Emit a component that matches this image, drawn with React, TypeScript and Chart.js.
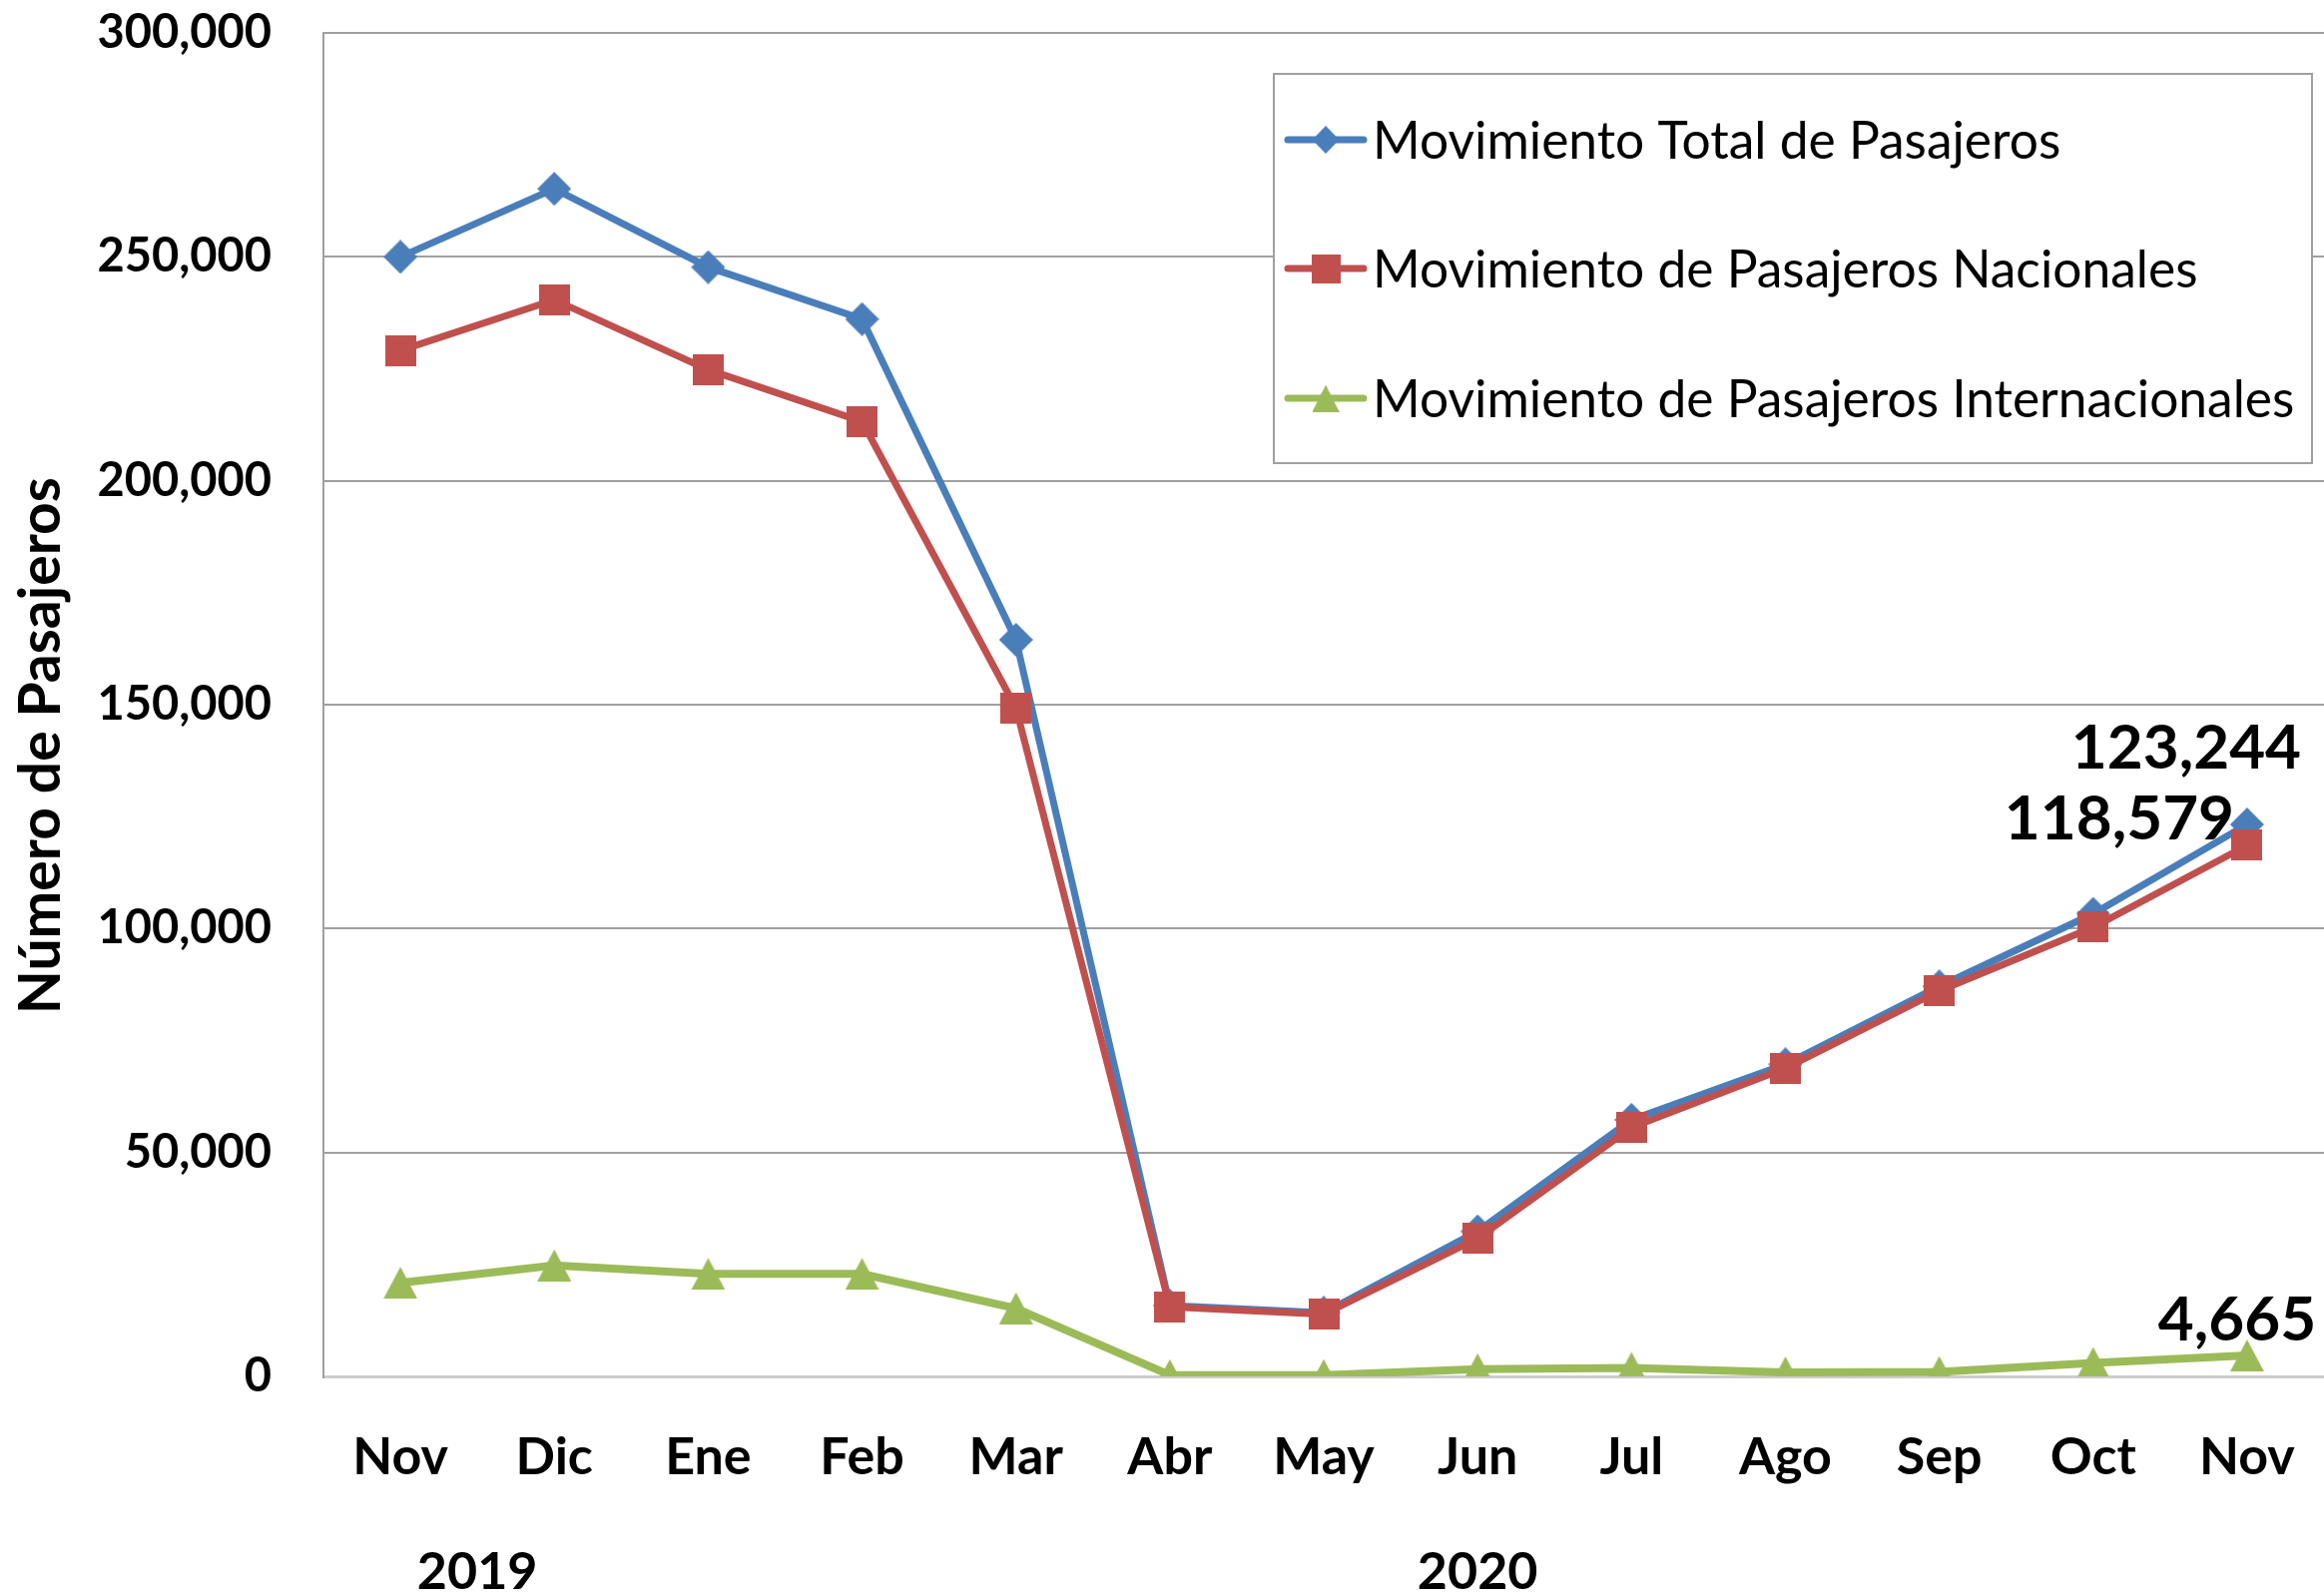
import React, { useEffect, useRef } from 'react';
import { Chart, registerables } from 'chart.js';

Chart.register(...registerables);

// ---------- data ----------
const months = ['Nov', 'Dic', 'Ene', 'Feb', 'Mar', 'Abr', 'May', 'Jun', 'Jul', 'Ago', 'Sep', 'Oct', 'Nov'];
const yearLabels = ['2019', '2020'];
const yearFirstIndex = [0, 2];
const yearLastIndex = [1, 12];

const seriesNames = [
  'Movimiento Total de Pasajeros',
  'Movimiento de Pasajeros Nacionales',
  'Movimiento de Pasajeros Internacionales',
];
const totalPax = [250000, 265200, 247700, 236100, 164500, 15800, 14200, 32400, 57300, 69700, 87100, 103300, 123244];
const nationalPax = [229100, 240400, 224800, 213200, 149300, 15500, 13900, 30800, 55600, 68800, 86100, 100300, 118579];
const internationalPax = [20900, 24800, 22900, 22900, 15200, 300, 300, 1600, 1900, 900, 1000, 3000, 4665];

const yMin = 0;
const yMax = 300000;
const yStep = 50000;
const yTitle = 'Número de Pasajeros';
const annotatedIndex = 12;

// ---------- styles ----------
const BLUE = '#4a7ebb';
const RED = '#c0504d';
const GREEN = '#9bbb59';
const FONT = 'Lato';

function makeMarker(kind: string, w: number, h: number, color: string) {
  const c = document.createElement('canvas');
  c.width = w;
  c.height = h;
  const g = c.getContext('2d')!;
  g.fillStyle = color;
  g.beginPath();
  if (kind === 'diamond') {
    g.moveTo(w / 2, 0);
    g.lineTo(w, h / 2);
    g.lineTo(w / 2, h);
    g.lineTo(0, h / 2);
  } else if (kind === 'square') {
    g.rect(0, 0, w, h);
  } else {
    g.moveTo(w / 2, 0);
    g.lineTo(w, h);
    g.lineTo(0, h);
  }
  g.closePath();
  g.fill();
  return c;
}

const fmt = (v: number) => v.toLocaleString('en-US');

export default function App() {
  const ref = useRef<HTMLCanvasElement | null>(null);

  useEffect(() => {
    let chart: Chart | null = null;
    let cancelled = false;

    const build = () => {
      if (cancelled || !ref.current) return;
      const diamond = makeMarker('diamond', 34, 34, BLUE);
      const square = makeMarker('square', 31, 31, RED);
      const triangle = makeMarker('triangle', 34, 32, GREEN);
      const markers = [diamond, square, triangle];
      const colors = [BLUE, RED, GREEN];
      const legendMarkerSize = [
        [27, 28],
        [29, 29],
        [27, 27],
      ];
      const annotationOffsets = [
        [-61, -76],
        [-128, -26],
        [-10, -35],
      ];

      const overlay = {
        id: 'overlay',
        afterDatasetsDraw(c: any) {
          const ctx = c.ctx as CanvasRenderingContext2D;
          const x = c.scales.x;
          const y = c.scales.y;

          // annotations on last point
          ctx.save();
          ctx.fillStyle = '#000';
          ctx.font = `bold 62px ${FONT}`;
          ctx.textAlign = 'center';
          ctx.textBaseline = 'middle';
          c.data.datasets.forEach((ds: any, i: number) => {
            const v = ds.data[annotatedIndex];
            const px = x.getPixelForValue(annotatedIndex);
            const py = y.getPixelForValue(v);
            ctx.fillText(fmt(v), px + annotationOffsets[i][0], py + annotationOffsets[i][1]);
          });
          ctx.restore();

          // legend box
          ctx.save();
          const bx = 1276, by = 74, bw = 1040, bh = 390;
          ctx.fillStyle = '#fff';
          ctx.fillRect(bx, by, bw, bh);
          ctx.strokeStyle = '#a0a0a0';
          ctx.lineWidth = 2;
          ctx.strokeRect(bx, by, bw, bh);
          const rows = [140, 269, 399];
          ctx.font = `51.5px ${FONT}`;
          ctx.textAlign = 'left';
          ctx.textBaseline = 'middle';
          c.data.datasets.forEach((ds: any, i: number) => {
            const ry = rows[i];
            ctx.strokeStyle = colors[i];
            ctx.lineWidth = 7;
            ctx.lineCap = 'round';
            ctx.beginPath();
            ctx.moveTo(1290, ry);
            ctx.lineTo(1366, ry);
            ctx.stroke();
            const [mw, mh] = legendMarkerSize[i];
            ctx.drawImage(markers[i], 1328 - mw / 2, ry - mh / 2, mw, mh);
            ctx.fillStyle = '#000';
            ctx.fillText(ds.label, 1375, ry + 2);
          });
          ctx.restore();
        },
        afterDraw(c: any) {
          const ctx = c.ctx as CanvasRenderingContext2D;
          const x = c.scales.x;
          ctx.save();
          ctx.fillStyle = '#000';
          // year group labels
          ctx.font = `bold 52px ${FONT}`;
          ctx.textAlign = 'center';
          ctx.textBaseline = 'middle';
          yearLabels.forEach((lab, i) => {
            const cx = (x.getPixelForValue(yearFirstIndex[i]) + x.getPixelForValue(yearLastIndex[i])) / 2;
            ctx.fillText(lab, cx, 1575);
          });
          // y axis title
          ctx.translate(42, 747);
          ctx.rotate(-Math.PI / 2);
          ctx.font = `bold 57px ${FONT}`;
          ctx.fillText(yTitle, 0, 0);
          ctx.restore();
        },
      };

      chart = new Chart(ref.current, {
        type: 'line',
        data: {
          labels: months,
          datasets: [
            {
              label: seriesNames[0],
              data: totalPax,
              borderColor: BLUE,
              backgroundColor: BLUE,
              borderWidth: 7,
              pointStyle: diamond as any,
              pointRadius: 16,
              tension: 0,
              order: 2,
            },
            {
              label: seriesNames[1],
              data: nationalPax,
              borderColor: RED,
              backgroundColor: RED,
              borderWidth: 7,
              pointStyle: square as any,
              pointRadius: 16,
              tension: 0,
              order: 1,
            },
            {
              label: seriesNames[2],
              data: internationalPax,
              borderColor: GREEN,
              backgroundColor: GREEN,
              borderWidth: 8,
              pointStyle: triangle as any,
              pointRadius: 16,
              tension: 0,
              order: 0,
            },
          ],
        },
        options: {
          animation: false,
          responsive: false,
          events: [],
          layout: { autoPadding: false, padding: { top: 33, left: 0, right: 0, bottom: 0 } },
          plugins: {
            legend: { display: false },
            tooltip: { enabled: false },
            title: { display: false },
          },
          scales: {
            x: {
              type: 'category',
              offset: true,
              grid: {
                display: true,
                drawOnChartArea: false,
                drawTicks: true,
                tickLength: 50,
                tickColor: 'rgba(0,0,0,0)',
                color: 'rgba(0,0,0,0)',
              },
              border: { display: false },
              ticks: {
                color: '#000',
                font: { family: FONT, size: 52, weight: 'bold' },
                padding: 0,
                maxRotation: 0,
                autoSkip: false,
              },
              afterFit: (s: any) => {
                s.height = 220;
                s.paddingLeft = 0;
                s.paddingRight = 0;
              },
            },
            y: {
              min: yMin,
              max: yMax,
              grid: {
                drawTicks: true,
                tickLength: 52,
                tickColor: 'rgba(0,0,0,0)',
                color: (ctx: any) => (ctx.tick && ctx.tick.value === 0 ? '#cdcdcd' : '#a0a0a0'),
                lineWidth: (ctx: any) => (ctx.tick && ctx.tick.value === 0 ? 3 : 2),
              },
              border: { display: true, color: '#a0a0a0', width: 2 },
              ticks: {
                stepSize: yStep,
                color: '#000',
                font: { family: FONT, size: 47, weight: 'bold' },
                padding: 0,
                callback: (v: any) => fmt(Number(v)),
              },
              afterFit: (s: any) => {
                s.width = 324;
              },
            },
          },
        },
        plugins: [overlay],
      });
    };

    const fonts = (document as any).fonts;
    if (fonts && fonts.load) {
      Promise.all([
        fonts.load(`bold 50px ${FONT}`),
        fonts.load(`50px ${FONT}`),
      ])
        .catch(() => null)
        .then(build);
    } else {
      build();
    }

    return () => {
      cancelled = true;
      if (chart) chart.destroy();
    };
  }, []);

  return (
    <div style={{ position: 'fixed', left: 0, top: 0, width: 2328, height: 1599, background: '#fff' }}>
      <canvas ref={ref} width={2328} height={1599} style={{ display: 'block', width: 2328, height: 1599 }} />
    </div>
  );
}
